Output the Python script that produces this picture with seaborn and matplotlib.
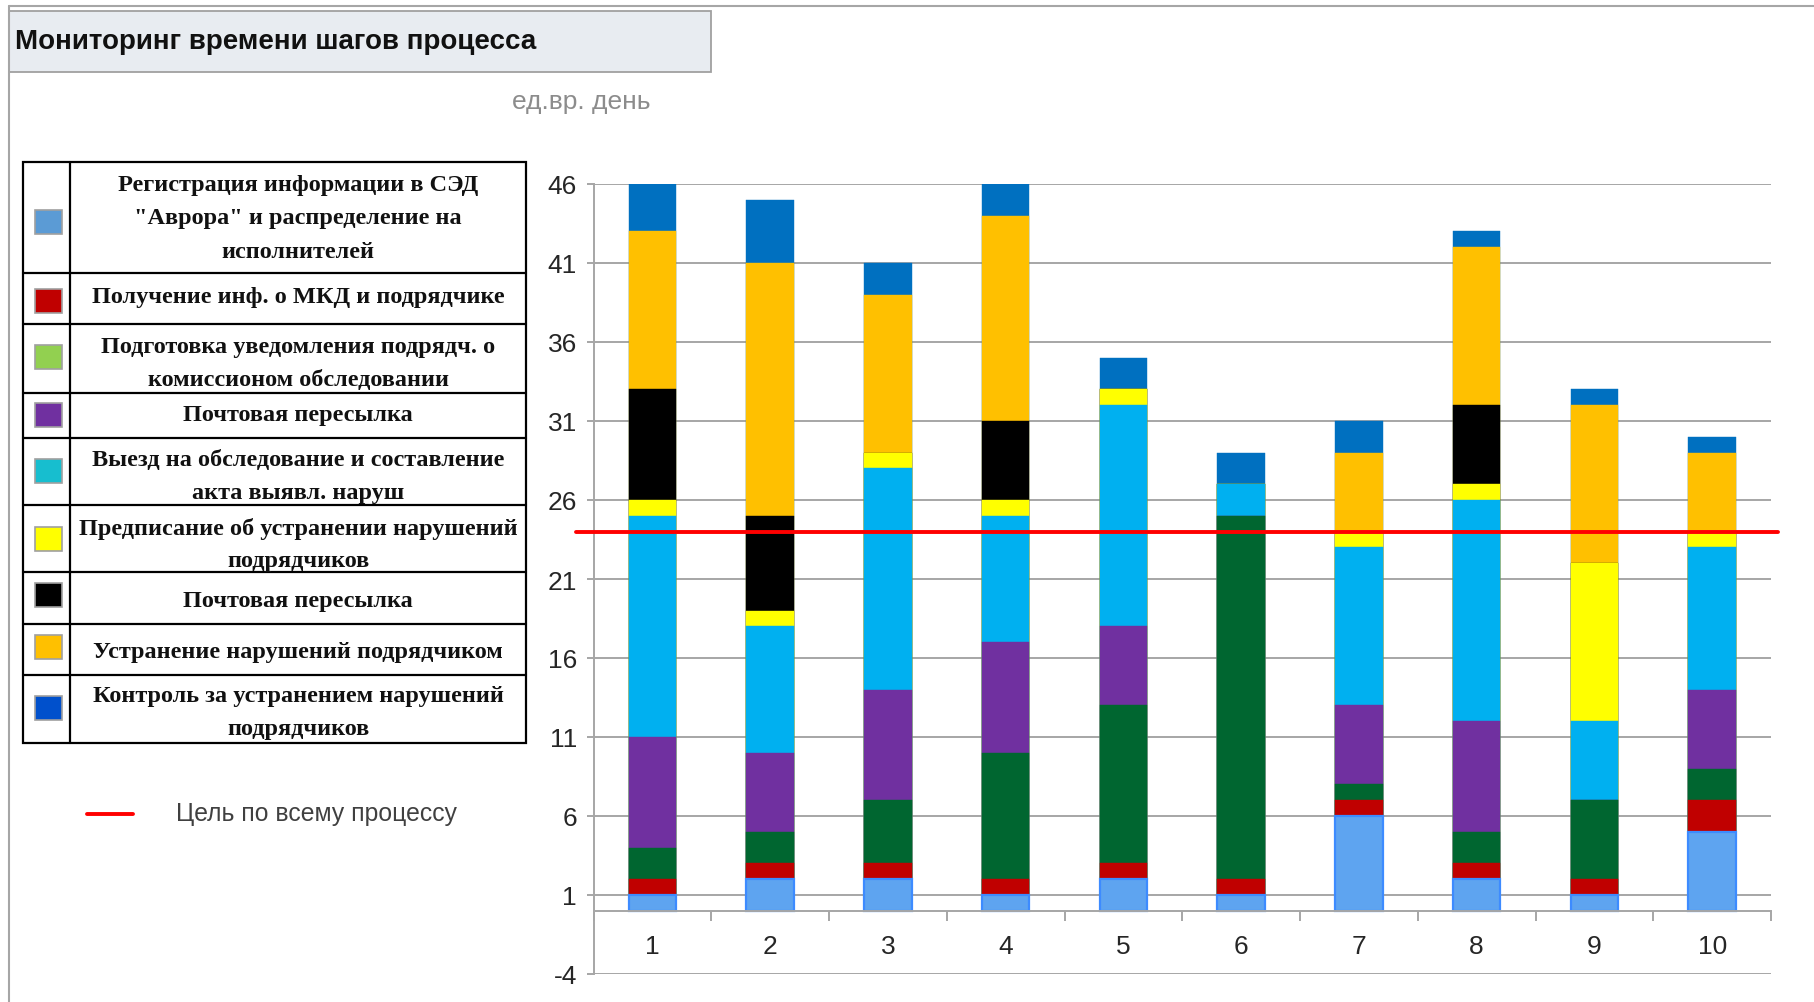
import matplotlib
matplotlib.use("Agg")
import matplotlib.pyplot as plt
from matplotlib.patches import Rectangle
from matplotlib.lines import Line2D
import numpy as np
import pandas as pd
import seaborn as sns

# ---- data -------------------------------------------------------------
categories = ["1", "2", "3", "4", "5", "6", "7", "8", "9", "10"]

registration = [1, 2, 2, 1, 2, 1, 6, 2, 1, 5]       # Регистрация информации в СЭД
info_receipt = [1, 1, 1, 1, 1, 1, 1, 1, 1, 2]       # Получение инф. о МКД
notice_prep = [2, 2, 4, 8, 10, 23, 1, 2, 5, 2]      # Подготовка уведомления
mail_first = [7, 5, 7, 7, 5, 0, 5, 7, 0, 5]         # Почтовая пересылка
inspection = [14, 8, 14, 8, 14, 2, 10, 14, 5, 9]    # Выезд на обследование
order_issue = [1, 1, 1, 1, 1, 0, 1, 1, 10, 1]       # Предписание
mail_second = [7, 6, 0, 5, 0, 0, 0, 5, 0, 0]        # Почтовая пересылка
fixing = [10, 16, 10, 13, 0, 0, 5, 10, 10, 5]       # Устранение нарушений
control = [3, 4, 2, 2, 2, 2, 2, 1, 1, 1]            # Контроль за устранением

target = 24
y_ticks = [-4, 1, 6, 11, 16, 21, 26, 31, 36, 41, 46]

step_names = ["registration", "info_receipt", "notice_prep", "mail_first",
              "inspection", "order_issue", "mail_second", "fixing", "control"]
step_values = [registration, info_receipt, notice_prep, mail_first,
               inspection, order_issue, mail_second, fixing, control]

step_labels = [
    ["Регистрация информации в СЭД", "\"Аврора\" и распределение на", "исполнителей"],
    ["Получение инф. о МКД и подрядчике"],
    ["Подготовка уведомления подрядч. о", "комиссионом обследовании"],
    ["Почтовая пересылка"],
    ["Выезд на обследование и составление", "акта выявл. наруш"],
    ["Предписание об устранении нарушений", "подрядчиков"],
    ["Почтовая пересылка"],
    ["Устранение нарушений подрядчиком"],
    ["Контроль за устранением нарушений", "подрядчиков"],
]

title = "Мониторинг времени шагов процесса"
unit_label = "ед.вр. день"
target_label = "Цель по всему процессу"

# ---- styles -----------------------------------------------------------
bar_colors = ["#5EA4F0", "#C00000", "#006630", "#7030A0", "#00B0F0",
              "#FFFF00", "#000000", "#FFC000", "#0070C0"]
swatch_colors = ["#5B9BD5", "#C00000", "#92D050", "#7030A0", "#17BECF",
                 "#FFFF00", "#000000", "#FFC000", "#0050CC"]

W, H = 1814, 1003
sns.set_theme(style="white")
plt.rcParams["font.family"] = ["Liberation Sans", "DejaVu Sans"]
plt.rcParams["axes.unicode_minus"] = False

fig = plt.figure(figsize=(W / 100, H / 100), dpi=100)
fig.patch.set_facecolor("white")

# ---- stacked bars -----------------------------------------------------
ax_l, ax_r, ax_t, ax_b = 593.5, 1771, 185, 975
ax = fig.add_axes([ax_l / W, (H - ax_b) / H, (ax_r - ax_l) / W, (ax_b - ax_t) / H])

df = pd.DataFrame(dict(zip(step_names, step_values)), index=categories)
cum = df.cumsum(axis=1)

for name, color in reversed(list(zip(step_names, bar_colors))):
    is_base = name == "registration"
    sns.barplot(x=categories, y=cum[name].values, order=categories,
                color=color, saturation=1, width=0.405, errorbar=None,
                edgecolor="#3D8BFF" if is_base else color,
                linewidth=1.6 if is_base else 0.3, ax=ax)

ax.axhline(target, xmin=-0.0149, xmax=1.006, color="#FF0000", lw=2.8,
           clip_on=False, zorder=6)

ax.set_xlim(-0.5, len(categories) - 0.5)
ax.set_ylim(y_ticks[0], y_ticks[-1])
ax.set_yticks(y_ticks)
ax.set_xlabel("")
ax.set_ylabel("")
ax.set_axisbelow(True)
ax.yaxis.grid(True, color="#A6A6A6", lw=1.4)
ax.xaxis.grid(False)

for s in ("top", "right"):
    ax.spines[s].set_visible(False)
ax.spines["left"].set_color("#A6A6A6")
ax.spines["left"].set_linewidth(1.4)
ax.spines["bottom"].set_position(("data", 0))
ax.spines["bottom"].set_color("#A6A6A6")
ax.spines["bottom"].set_linewidth(1.4)

ax.set_xticks(np.arange(len(categories)))
ax.set_xticklabels(categories)
ax.set_xticks(np.arange(len(categories) + 1) - 0.5, minor=True)
ax.tick_params(axis="x", which="major", length=0, pad=17, labelsize=19,
               labelcolor="#262626")
ax.tick_params(axis="x", which="minor", length=7, width=1.4, color="#A6A6A6",
               direction="out", bottom=True)
ax.tick_params(axis="y", length=5, width=1.4, color="#A6A6A6", pad=7,
               labelsize=19, labelcolor="#262626", left=True)

# ---- surrounding layout ----------------------------------------------
deco = fig.add_axes([0, 0, 1, 1], zorder=-1)
deco.set_xlim(0, W)
deco.set_ylim(H, 0)
deco.axis("off")

frame_kw = dict(color="#A6A6A6", lw=1.5)
deco.add_line(Line2D([9, W], [7, 7], **frame_kw))
deco.add_line(Line2D([9, 9], [7, H], **frame_kw))

deco.add_patch(Rectangle((9, 12), 702, 61, facecolor="#E8ECF1",
                         edgecolor="#A0A0A0", lw=1.3))
deco.text(15, 42, title, fontsize=20, fontweight="bold", color="#111111",
          ha="left", va="center")
deco.text(581, 102, unit_label, fontsize=19, color="#8C8C8C",
          ha="center", va="center")

# table legend
rows = [163, 274, 325, 394, 439, 506, 573, 625, 676, 744]
tx0, tx1, tdiv = 23, 526, 70
deco.add_patch(Rectangle((tx0, rows[0]), tx1 - tx0, rows[-1] - rows[0],
                         facecolor="white", edgecolor="black", lw=1.6))
for yb in rows[1:-1]:
    deco.add_line(Line2D([tx0, tx1], [yb, yb], color="black", lw=1.6))
deco.add_line(Line2D([tdiv, tdiv], [rows[0], rows[-1]], color="black", lw=1.6))

swatch_y = [223, 302, 358, 416, 472, 540, 596, 648, 709]
text_y = [[185, 218.5, 252], [297], [347, 380.5], [415], [460.5, 493],
          [529, 561], [601.5], [652.5], [696.5, 729]]
for lines, ys, yc, sc in zip(step_labels, text_y, swatch_y, swatch_colors):
    deco.add_patch(Rectangle((48 - 13.5, yc - 12), 27, 24, facecolor=sc,
                             edgecolor="#A0A0A0", lw=1.2))
    for line, yy in zip(lines, ys):
        deco.text((tdiv + tx1) / 2, yy, line, fontsize=17.5, fontweight="bold",
                  family=["Liberation Serif", "DejaVu Serif"], color="#111111",
                  ha="center", va="center")

deco.add_line(Line2D([87, 133], [814.5, 814.5], color="#FF0000", lw=2.8))
deco.text(176, 814, target_label, fontsize=17.8, color="#404040",
          ha="left", va="center")

fig.savefig("out.png", dpi=100, facecolor="white")
